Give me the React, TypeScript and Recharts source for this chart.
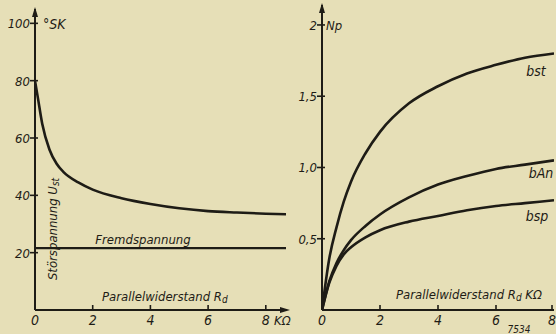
import React from "react";
import { LineChart, Line, XAxis, YAxis } from "recharts";

// Left panel: Störspannung vs Parallelwiderstand
const leftX = [0, 0.1, 0.25, 0.5, 0.75, 1, 1.5, 2, 3, 4, 5, 6, 7, 8, 8.7];
const stoerspannung = [80, 74, 65, 56, 51, 48, 44.5, 42, 39, 37, 35.5, 34.5, 34, 33.6, 33.4];
const fremdX = [0, 8.7];
const fremdspannung = [21.6, 21.6];
const leftXTicks = [0, 2, 4, 6, 8];
const leftYTicks = [20, 40, 60, 80, 100];

// Right panel: damping (Np) vs Parallelwiderstand
const rightX = [0, 0.25, 0.5, 0.75, 1, 1.5, 2, 3, 4, 5, 6, 7, 8];
const bst = [0, 0.36, 0.58, 0.76, 0.9, 1.1, 1.25, 1.45, 1.57, 1.66, 1.72, 1.77, 1.8];
const bAn = [0, 0.2, 0.33, 0.42, 0.49, 0.59, 0.67, 0.79, 0.88, 0.94, 0.99, 1.02, 1.05];
const bsp = [0, 0.19, 0.31, 0.39, 0.44, 0.51, 0.56, 0.62, 0.66, 0.7, 0.73, 0.75, 0.77];
const rightXTicks = [0, 2, 4, 6, 8];
const rightYTicks = [0.5, 1, 1.5, 2];
const rightYLabels = ["0,5", "1,0", "1,5", "2"];

const toPts = (xs: number[], ys: number[]) => xs.map((x, i) => ({ x, y: ys[i] }));

const INK = "#1e1c16";
const BG = "#e6dfb7";
const FONT = "'DejaVu Sans Condensed', 'DejaVu Sans', sans-serif";

const XTick = (props: any) => {
  const { x, y, payload } = props;
  return (
    <g>
      {payload.value !== 0 && <line x1={x} x2={x} y1={y - 5} y2={y} stroke={INK} strokeWidth={1.6} />}
      <text x={x} y={y + 15} textAnchor="middle" fontFamily={FONT} fontStyle="italic" fontSize={14} fill={INK}>
        {payload.value}
      </text>
    </g>
  );
};

const makeYTick = (labels?: Record<string, string>) => (props: any) => {
  const { x, y, payload } = props;
  const lbl = labels ? labels[String(payload.value)] ?? payload.value : payload.value;
  return (
    <g>
      <line x1={x - 5} x2={x + 3} y1={y} y2={y} stroke={INK} strokeWidth={1.6} />
      <text x={x - 5} y={y + 5} textAnchor="end" fontFamily={FONT} fontStyle="italic" fontSize={13} fill={INK}>
        {lbl}
      </text>
    </g>
  );
};

const rightLabelMap: Record<string, string> = {};
rightYTicks.forEach((v, i) => (rightLabelMap[String(v)] = rightYLabels[i]));

const txt = { fontFamily: FONT, fontStyle: "italic" as const, fill: INK };

export default function App() {
  return (
    <div style={{ position: "absolute", left: 0, top: 0, width: 556, height: 334, background: BG, overflow: "hidden" }}>
      <div style={{ position: "absolute", left: 0, top: 0 }}>
        <LineChart width={300} height={334} margin={{ top: 9, right: 14, left: 0, bottom: 0 }}>
          <XAxis
            type="number"
            dataKey="x"
            domain={[0, 8.7]}
            ticks={leftXTicks}
            height={24}
            tickSize={0}
            tickMargin={0}
            tickLine={false}
            tick={<XTick />}
            axisLine={{ stroke: INK, strokeWidth: 2 }}
            allowDataOverflow
          />
          <YAxis
            type="number"
            dataKey="y"
            domain={[0, 105]}
            ticks={leftYTicks}
            width={35}
            tickSize={0}
            tickMargin={0}
            tickLine={false}
            tick={makeYTick()}
            axisLine={{ stroke: INK, strokeWidth: 2 }}
            allowDataOverflow
          />
          <Line data={toPts(leftX, stoerspannung)} dataKey="y" type="monotone" stroke={INK} strokeWidth={2.6} dot={false} isAnimationActive={false} />
          <Line data={toPts(fremdX, fremdspannung)} dataKey="y" type="linear" stroke={INK} strokeWidth={2.4} dot={false} isAnimationActive={false} />
        </LineChart>
      </div>
      <div style={{ position: "absolute", left: 280, top: 0 }}>
        <LineChart width={276} height={334} margin={{ top: 5, right: 2, left: 0, bottom: 0 }}>
          <XAxis
            type="number"
            dataKey="x"
            domain={[0, 8]}
            ticks={rightXTicks}
            height={24}
            tickSize={0}
            tickMargin={0}
            tickLine={false}
            tick={<XTick />}
            axisLine={{ stroke: INK, strokeWidth: 2 }}
            allowDataOverflow
          />
          <YAxis
            type="number"
            dataKey="y"
            domain={[0, 2.14]}
            ticks={rightYTicks}
            width={42}
            tickSize={0}
            tickMargin={0}
            tickLine={false}
            tick={makeYTick(rightLabelMap)}
            axisLine={{ stroke: INK, strokeWidth: 2 }}
            allowDataOverflow
          />
          <Line data={toPts(rightX, bst)} dataKey="y" type="monotone" stroke={INK} strokeWidth={2.6} dot={false} isAnimationActive={false} />
          <Line data={toPts(rightX, bAn)} dataKey="y" type="monotone" stroke={INK} strokeWidth={2.6} dot={false} isAnimationActive={false} />
          <Line data={toPts(rightX, bsp)} dataKey="y" type="monotone" stroke={INK} strokeWidth={2.6} dot={false} isAnimationActive={false} />
        </LineChart>
      </div>
      <svg width={556} height={334} style={{ position: "absolute", left: 0, top: 0, pointerEvents: "none" }}>
        {/* axis arrowheads */}
        <polygon points="35,7 32,17 38,17" fill={INK} />
        <polygon points="322,3 319,13 325,13" fill={INK} />
        <polygon points="290,310 280,307 280,313" fill={INK} />
        <text x={43} y={29} fontSize={14} {...txt}>°SK</text>
        <text x={274} y={325} fontSize={13} {...txt}>KΩ</text>
        <text x={326} y={30} fontSize={13} {...txt}>Np</text>
        <text x={143} y={244} fontSize={13} textAnchor="middle" {...txt}>Fremdspannung</text>
        <text x={102} y={301} fontSize={13} {...txt}>
          Parallelwiderstand R<tspan fontSize={10} dy={2}>d</tspan>
        </text>
        <text x={396} y={299} fontSize={13} {...txt}>
          Parallelwiderstand R<tspan fontSize={10} dy={2}>d</tspan>
          <tspan dy={-2}> KΩ</tspan>
        </text>
        <text transform="translate(57,229) rotate(-90)" fontSize={13} textAnchor="middle" {...txt}>
          Störspannung U<tspan fontSize={10} dy={2}>st</tspan>
        </text>
        <text x={536} y={76} fontSize={14} textAnchor="middle" {...txt}>bst</text>
        <text x={541} y={178} fontSize={14} textAnchor="middle" {...txt}>bAn</text>
        <text x={537} y={221} fontSize={14} textAnchor="middle" {...txt}>bsp</text>
        <text x={519} y={333} fontSize={10} textAnchor="middle" {...txt}>7534</text>
      </svg>
    </div>
  );
}
